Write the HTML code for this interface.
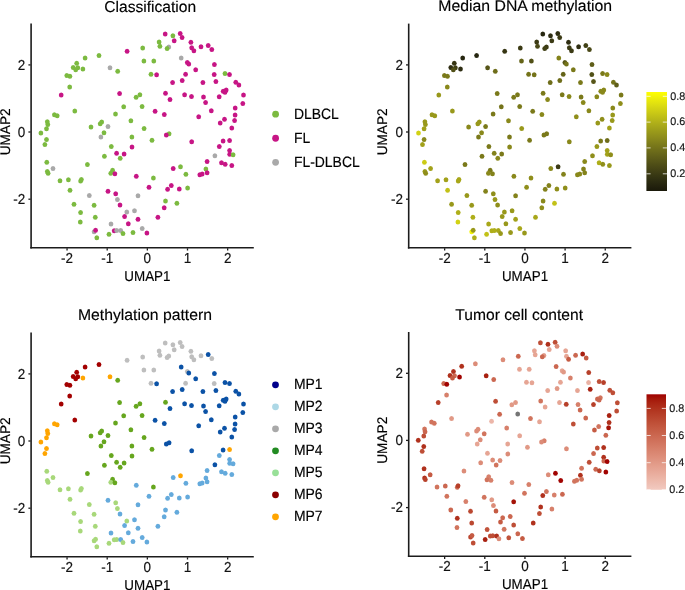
<!DOCTYPE html><html><head><meta charset="utf-8"><style>html,body{margin:0;padding:0;background:#fff;overflow:hidden;}svg{display:block}text{font-family:"Liberation Sans",sans-serif;fill:#000;stroke:#000;stroke-width:0.15px;text-rendering:geometricPrecision} .tk{font-size:13.5px;fill:#111;stroke:#111} .at{font-size:13.4px} .tt{font-size:15.6px} .lg{font-size:13.95px} .cb{font-size:10.8px;fill:#1a1a1a}</style></head><body>
<div style="transform:translateZ(0);width:685px;height:590px;filter:blur(0.3px)">
<svg width="685" height="590" viewBox="0 0 685 590">
<path d="M31.1 23.6V248.6" stroke="#1c1c1c" stroke-width="1.6"/>
<path d="M30.3 247.8H253.8" stroke="#1c1c1c" stroke-width="1.6"/>
<path d="M67.05 248.3V250.5" stroke="#1c1c1c" stroke-width="1.3"/>
<text transform="translate(67.05 263) scale(1.0 1.07)" text-anchor="middle" class="tk">-2</text>
<path d="M107.2 248.3V250.5" stroke="#1c1c1c" stroke-width="1.3"/>
<text transform="translate(107.2 263) scale(1.0 1.07)" text-anchor="middle" class="tk">-1</text>
<path d="M147.35 248.3V250.5" stroke="#1c1c1c" stroke-width="1.3"/>
<text transform="translate(147.35 263) scale(1.0 1.07)" text-anchor="middle" class="tk">0</text>
<path d="M187.5 248.3V250.5" stroke="#1c1c1c" stroke-width="1.3"/>
<text transform="translate(187.5 263) scale(1.0 1.07)" text-anchor="middle" class="tk">1</text>
<path d="M227.65 248.3V250.5" stroke="#1c1c1c" stroke-width="1.3"/>
<text transform="translate(227.65 263) scale(1.0 1.07)" text-anchor="middle" class="tk">2</text>
<path d="M28.4 64.9H30.6" stroke="#1c1c1c" stroke-width="1.3"/>
<text transform="translate(25.3 69.65) scale(1.0 1.07)" text-anchor="end" class="tk">2</text>
<path d="M28.4 132H30.6" stroke="#1c1c1c" stroke-width="1.3"/>
<text transform="translate(25.3 136.75) scale(1.0 1.07)" text-anchor="end" class="tk">0</text>
<path d="M28.4 199.2H30.6" stroke="#1c1c1c" stroke-width="1.3"/>
<text transform="translate(25.3 203.95) scale(1.0 1.07)" text-anchor="end" class="tk">-2</text>
<text transform="translate(147.4 280.6) scale(1.0 1.07)" text-anchor="middle" class="at">UMAP1</text>
<text transform="translate(9.6 131.85) rotate(-90) scale(1.02 1.045)" text-anchor="middle" class="at">UMAP2</text>
<ellipse cx="85.1" cy="58" rx="2.38" ry="2.5" fill="#7cba40"/>
<ellipse cx="76.7" cy="63.2" rx="2.38" ry="2.5" fill="#7cba40"/>
<ellipse cx="73.2" cy="67.4" rx="2.38" ry="2.5" fill="#7cba40"/>
<ellipse cx="77.8" cy="67.7" rx="2.38" ry="2.5" fill="#7cba40"/>
<ellipse cx="75.7" cy="69.8" rx="2.38" ry="2.5" fill="#7cba40"/>
<ellipse cx="82.9" cy="69" rx="2.38" ry="2.5" fill="#7cba40"/>
<ellipse cx="66.8" cy="75.6" rx="2.38" ry="2.5" fill="#7cba40"/>
<ellipse cx="69.9" cy="76.3" rx="2.38" ry="2.5" fill="#7cba40"/>
<ellipse cx="99" cy="55.5" rx="2.38" ry="2.5" fill="#7cba40"/>
<ellipse cx="110" cy="67.7" rx="2.38" ry="2.5" fill="#a9a9a9"/>
<ellipse cx="117.7" cy="71.3" rx="2.38" ry="2.5" fill="#7cba40"/>
<ellipse cx="127.1" cy="51.3" rx="2.38" ry="2.5" fill="#c71585"/>
<ellipse cx="142.7" cy="47.9" rx="2.38" ry="2.5" fill="#7cba40"/>
<ellipse cx="143.9" cy="60.9" rx="2.38" ry="2.5" fill="#7cba40"/>
<ellipse cx="151" cy="74.3" rx="2.38" ry="2.5" fill="#7cba40"/>
<ellipse cx="165.2" cy="34" rx="2.38" ry="2.5" fill="#c71585"/>
<ellipse cx="172.9" cy="35.7" rx="2.38" ry="2.5" fill="#7cba40"/>
<ellipse cx="180.2" cy="33.5" rx="2.38" ry="2.5" fill="#c71585"/>
<ellipse cx="182.1" cy="37.5" rx="2.38" ry="2.5" fill="#c71585"/>
<ellipse cx="174.2" cy="40.8" rx="2.38" ry="2.5" fill="#c71585"/>
<ellipse cx="159.1" cy="42.1" rx="2.38" ry="2.5" fill="#7cba40"/>
<ellipse cx="159.9" cy="46.2" rx="2.38" ry="2.5" fill="#7cba40"/>
<ellipse cx="168.8" cy="46.9" rx="2.38" ry="2.5" fill="#a9a9a9"/>
<ellipse cx="167.1" cy="48.4" rx="2.38" ry="2.5" fill="#7cba40"/>
<ellipse cx="190.9" cy="42.3" rx="2.38" ry="2.5" fill="#c71585"/>
<ellipse cx="191.7" cy="47.7" rx="2.38" ry="2.5" fill="#c71585"/>
<ellipse cx="193.9" cy="50.8" rx="2.38" ry="2.5" fill="#c71585"/>
<ellipse cx="201" cy="46.8" rx="2.38" ry="2.5" fill="#c71585"/>
<ellipse cx="208.2" cy="45.4" rx="2.38" ry="2.5" fill="#c71585"/>
<ellipse cx="211.8" cy="49.6" rx="2.38" ry="2.5" fill="#c71585"/>
<ellipse cx="181.2" cy="58.1" rx="2.38" ry="2.5" fill="#a9a9a9"/>
<ellipse cx="187.3" cy="62.5" rx="2.38" ry="2.5" fill="#c71585"/>
<ellipse cx="188.8" cy="63.9" rx="2.38" ry="2.5" fill="#c71585"/>
<ellipse cx="153.8" cy="60.9" rx="2.38" ry="2.5" fill="#7cba40"/>
<ellipse cx="195.7" cy="69.8" rx="2.38" ry="2.5" fill="#c71585"/>
<ellipse cx="156.6" cy="74.7" rx="2.38" ry="2.5" fill="#c71585"/>
<ellipse cx="185.6" cy="74.2" rx="2.38" ry="2.5" fill="#c71585"/>
<ellipse cx="182.2" cy="80.5" rx="2.38" ry="2.5" fill="#c71585"/>
<ellipse cx="172.6" cy="82.5" rx="2.38" ry="2.5" fill="#c71585"/>
<ellipse cx="202.9" cy="82.5" rx="2.38" ry="2.5" fill="#c71585"/>
<ellipse cx="214.4" cy="64.4" rx="2.38" ry="2.5" fill="#c71585"/>
<ellipse cx="214.2" cy="74.5" rx="2.38" ry="2.5" fill="#c71585"/>
<ellipse cx="225" cy="73.5" rx="2.38" ry="2.5" fill="#7cba40"/>
<ellipse cx="229.5" cy="74.5" rx="2.38" ry="2.5" fill="#c71585"/>
<ellipse cx="215.9" cy="81.4" rx="2.38" ry="2.5" fill="#c71585"/>
<ellipse cx="235.8" cy="82.3" rx="2.38" ry="2.5" fill="#c71585"/>
<ellipse cx="238.9" cy="84.9" rx="2.38" ry="2.5" fill="#c71585"/>
<ellipse cx="69.7" cy="87.1" rx="2.38" ry="2.5" fill="#7cba40"/>
<ellipse cx="61.2" cy="94.9" rx="2.38" ry="2.5" fill="#c71585"/>
<ellipse cx="74.8" cy="111.1" rx="2.38" ry="2.5" fill="#7cba40"/>
<ellipse cx="54.4" cy="114.7" rx="2.38" ry="2.5" fill="#7cba40"/>
<ellipse cx="57.2" cy="115.8" rx="2.38" ry="2.5" fill="#7cba40"/>
<ellipse cx="47.3" cy="121.8" rx="2.38" ry="2.5" fill="#7cba40"/>
<ellipse cx="47.8" cy="124.5" rx="2.38" ry="2.5" fill="#7cba40"/>
<ellipse cx="46.5" cy="128.8" rx="2.38" ry="2.5" fill="#7cba40"/>
<ellipse cx="40.9" cy="133.1" rx="2.38" ry="2.5" fill="#7cba40"/>
<ellipse cx="46.5" cy="139.5" rx="2.38" ry="2.5" fill="#7cba40"/>
<ellipse cx="91" cy="127" rx="2.38" ry="2.5" fill="#7cba40"/>
<ellipse cx="119.6" cy="93.5" rx="2.38" ry="2.5" fill="#c71585"/>
<ellipse cx="136.1" cy="97.2" rx="2.38" ry="2.5" fill="#7cba40"/>
<ellipse cx="139.9" cy="94.8" rx="2.38" ry="2.5" fill="#7cba40"/>
<ellipse cx="123.7" cy="106.7" rx="2.38" ry="2.5" fill="#7cba40"/>
<ellipse cx="142.1" cy="106.4" rx="2.38" ry="2.5" fill="#7cba40"/>
<ellipse cx="115.5" cy="114" rx="2.38" ry="2.5" fill="#7cba40"/>
<ellipse cx="101.7" cy="122" rx="2.38" ry="2.5" fill="#7cba40"/>
<ellipse cx="100.2" cy="123.7" rx="2.38" ry="2.5" fill="#7cba40"/>
<ellipse cx="130.9" cy="120.8" rx="2.38" ry="2.5" fill="#7cba40"/>
<ellipse cx="108" cy="126.5" rx="2.38" ry="2.5" fill="#a9a9a9"/>
<ellipse cx="104" cy="132.8" rx="2.38" ry="2.5" fill="#7cba40"/>
<ellipse cx="100.9" cy="136.9" rx="2.38" ry="2.5" fill="#a9a9a9"/>
<ellipse cx="144.1" cy="128.6" rx="2.38" ry="2.5" fill="#7cba40"/>
<ellipse cx="131.9" cy="136.9" rx="2.38" ry="2.5" fill="#7cba40"/>
<ellipse cx="152" cy="140.3" rx="2.38" ry="2.5" fill="#7cba40"/>
<ellipse cx="165.5" cy="93.2" rx="2.38" ry="2.5" fill="#c71585"/>
<ellipse cx="170" cy="99.5" rx="2.38" ry="2.5" fill="#c71585"/>
<ellipse cx="184.6" cy="94.7" rx="2.38" ry="2.5" fill="#c71585"/>
<ellipse cx="191.5" cy="96.5" rx="2.38" ry="2.5" fill="#c71585"/>
<ellipse cx="203.5" cy="96.9" rx="2.38" ry="2.5" fill="#c71585"/>
<ellipse cx="205.6" cy="102.5" rx="2.38" ry="2.5" fill="#c71585"/>
<ellipse cx="155.1" cy="111.2" rx="2.38" ry="2.5" fill="#c71585"/>
<ellipse cx="164.3" cy="114.5" rx="2.38" ry="2.5" fill="#c71585"/>
<ellipse cx="198.7" cy="116.8" rx="2.38" ry="2.5" fill="#c71585"/>
<ellipse cx="211.3" cy="110.7" rx="2.38" ry="2.5" fill="#c71585"/>
<ellipse cx="169.1" cy="133.8" rx="2.38" ry="2.5" fill="#7cba40"/>
<ellipse cx="166.3" cy="135.1" rx="2.38" ry="2.5" fill="#c71585"/>
<ellipse cx="191.7" cy="141.8" rx="2.38" ry="2.5" fill="#c71585"/>
<ellipse cx="223.2" cy="91.3" rx="2.38" ry="2.5" fill="#c71585"/>
<ellipse cx="226.2" cy="89.9" rx="2.38" ry="2.5" fill="#c71585"/>
<ellipse cx="225" cy="92.2" rx="2.38" ry="2.5" fill="#c71585"/>
<ellipse cx="219.2" cy="96.8" rx="2.38" ry="2.5" fill="#c71585"/>
<ellipse cx="243.5" cy="95" rx="2.38" ry="2.5" fill="#c71585"/>
<ellipse cx="242.8" cy="103.5" rx="2.38" ry="2.5" fill="#c71585"/>
<ellipse cx="235.2" cy="108" rx="2.38" ry="2.5" fill="#c71585"/>
<ellipse cx="235.1" cy="115.1" rx="2.38" ry="2.5" fill="#c71585"/>
<ellipse cx="224.5" cy="119.3" rx="2.38" ry="2.5" fill="#c71585"/>
<ellipse cx="220.2" cy="122.9" rx="2.38" ry="2.5" fill="#c71585"/>
<ellipse cx="234.6" cy="120.6" rx="2.38" ry="2.5" fill="#c71585"/>
<ellipse cx="231.8" cy="128.1" rx="2.38" ry="2.5" fill="#c71585"/>
<ellipse cx="223.1" cy="141" rx="2.38" ry="2.5" fill="#c71585"/>
<ellipse cx="229.6" cy="140.5" rx="2.38" ry="2.5" fill="#c71585"/>
<ellipse cx="44.9" cy="144.5" rx="2.38" ry="2.5" fill="#7cba40"/>
<ellipse cx="46.8" cy="162.3" rx="2.38" ry="2.5" fill="#7cba40"/>
<ellipse cx="53" cy="168.4" rx="2.38" ry="2.5" fill="#a9a9a9"/>
<ellipse cx="47.3" cy="171.5" rx="2.38" ry="2.5" fill="#7cba40"/>
<ellipse cx="48.1" cy="173.2" rx="2.38" ry="2.5" fill="#7cba40"/>
<ellipse cx="60" cy="180.8" rx="2.38" ry="2.5" fill="#7cba40"/>
<ellipse cx="68.4" cy="179.8" rx="2.38" ry="2.5" fill="#7cba40"/>
<ellipse cx="80.6" cy="180.9" rx="2.38" ry="2.5" fill="#7cba40"/>
<ellipse cx="81.4" cy="179.4" rx="2.38" ry="2.5" fill="#7cba40"/>
<ellipse cx="70" cy="190.2" rx="2.38" ry="2.5" fill="#7cba40"/>
<ellipse cx="87.4" cy="164.4" rx="2.38" ry="2.5" fill="#7cba40"/>
<ellipse cx="89.3" cy="195.6" rx="2.38" ry="2.5" fill="#a9a9a9"/>
<ellipse cx="111.3" cy="146.4" rx="2.38" ry="2.5" fill="#7cba40"/>
<ellipse cx="132" cy="147.1" rx="2.38" ry="2.5" fill="#c71585"/>
<ellipse cx="116.6" cy="153.2" rx="2.38" ry="2.5" fill="#c71585"/>
<ellipse cx="124.1" cy="153.9" rx="2.38" ry="2.5" fill="#c71585"/>
<ellipse cx="104.4" cy="156.2" rx="2.38" ry="2.5" fill="#7cba40"/>
<ellipse cx="120.2" cy="158.3" rx="2.38" ry="2.5" fill="#7cba40"/>
<ellipse cx="112.6" cy="170.3" rx="2.38" ry="2.5" fill="#7cba40"/>
<ellipse cx="110.8" cy="173.3" rx="2.38" ry="2.5" fill="#7cba40"/>
<ellipse cx="114.9" cy="173.8" rx="2.38" ry="2.5" fill="#c71585"/>
<ellipse cx="136.3" cy="176.3" rx="2.38" ry="2.5" fill="#c71585"/>
<ellipse cx="149" cy="187.2" rx="2.38" ry="2.5" fill="#c71585"/>
<ellipse cx="108" cy="191.3" rx="2.38" ry="2.5" fill="#c71585"/>
<ellipse cx="115.7" cy="193.8" rx="2.38" ry="2.5" fill="#c71585"/>
<ellipse cx="138" cy="195.7" rx="2.38" ry="2.5" fill="#a9a9a9"/>
<ellipse cx="117.4" cy="199.6" rx="2.38" ry="2.5" fill="#a9a9a9"/>
<ellipse cx="207.1" cy="161.6" rx="2.38" ry="2.5" fill="#c71585"/>
<ellipse cx="180.5" cy="166.8" rx="2.38" ry="2.5" fill="#7cba40"/>
<ellipse cx="173.2" cy="168.4" rx="2.38" ry="2.5" fill="#c71585"/>
<ellipse cx="185.9" cy="174.2" rx="2.38" ry="2.5" fill="#7cba40"/>
<ellipse cx="205.9" cy="168.9" rx="2.38" ry="2.5" fill="#7cba40"/>
<ellipse cx="207.1" cy="172.8" rx="2.38" ry="2.5" fill="#c71585"/>
<ellipse cx="199.8" cy="174.8" rx="2.38" ry="2.5" fill="#c71585"/>
<ellipse cx="202.2" cy="174" rx="2.38" ry="2.5" fill="#c71585"/>
<ellipse cx="153.4" cy="178.1" rx="2.38" ry="2.5" fill="#7cba40"/>
<ellipse cx="171.3" cy="185.4" rx="2.38" ry="2.5" fill="#c71585"/>
<ellipse cx="167.6" cy="189.3" rx="2.38" ry="2.5" fill="#c71585"/>
<ellipse cx="179.3" cy="189" rx="2.38" ry="2.5" fill="#c71585"/>
<ellipse cx="187.6" cy="188.1" rx="2.38" ry="2.5" fill="#7cba40"/>
<ellipse cx="165.5" cy="201" rx="2.38" ry="2.5" fill="#7cba40"/>
<ellipse cx="176.9" cy="203.2" rx="2.38" ry="2.5" fill="#7cba40"/>
<ellipse cx="219.3" cy="146.6" rx="2.38" ry="2.5" fill="#c71585"/>
<ellipse cx="229.6" cy="150.4" rx="2.38" ry="2.5" fill="#c71585"/>
<ellipse cx="229.7" cy="154.3" rx="2.38" ry="2.5" fill="#c71585"/>
<ellipse cx="233.1" cy="154.8" rx="2.38" ry="2.5" fill="#7cba40"/>
<ellipse cx="214.9" cy="155.7" rx="2.38" ry="2.5" fill="#a9a9a9"/>
<ellipse cx="221.5" cy="162.8" rx="2.38" ry="2.5" fill="#c71585"/>
<ellipse cx="225.2" cy="164.2" rx="2.38" ry="2.5" fill="#c71585"/>
<ellipse cx="231.8" cy="165.4" rx="2.38" ry="2.5" fill="#c71585"/>
<ellipse cx="74" cy="204.2" rx="2.38" ry="2.5" fill="#7cba40"/>
<ellipse cx="80.6" cy="212.6" rx="2.38" ry="2.5" fill="#7cba40"/>
<ellipse cx="80.3" cy="222" rx="2.38" ry="2.5" fill="#7cba40"/>
<ellipse cx="94.1" cy="205.3" rx="2.38" ry="2.5" fill="#7cba40"/>
<ellipse cx="120" cy="205.1" rx="2.38" ry="2.5" fill="#c71585"/>
<ellipse cx="126.8" cy="212.1" rx="2.38" ry="2.5" fill="#a9a9a9"/>
<ellipse cx="134.5" cy="210.8" rx="2.38" ry="2.5" fill="#a9a9a9"/>
<ellipse cx="95.3" cy="217.3" rx="2.38" ry="2.5" fill="#7cba40"/>
<ellipse cx="124.6" cy="216.4" rx="2.38" ry="2.5" fill="#c71585"/>
<ellipse cx="138" cy="219.3" rx="2.38" ry="2.5" fill="#c71585"/>
<ellipse cx="111" cy="223.9" rx="2.38" ry="2.5" fill="#a9a9a9"/>
<ellipse cx="128.3" cy="223.8" rx="2.38" ry="2.5" fill="#c71585"/>
<ellipse cx="142.2" cy="228.4" rx="2.38" ry="2.5" fill="#a9a9a9"/>
<ellipse cx="94.1" cy="231.7" rx="2.38" ry="2.5" fill="#a9a9a9"/>
<ellipse cx="95.6" cy="230.2" rx="2.38" ry="2.5" fill="#c71585"/>
<ellipse cx="114.2" cy="230.7" rx="2.38" ry="2.5" fill="#c71585"/>
<ellipse cx="116.7" cy="230.4" rx="2.38" ry="2.5" fill="#a9a9a9"/>
<ellipse cx="120.7" cy="230.5" rx="2.38" ry="2.5" fill="#a9a9a9"/>
<ellipse cx="123" cy="233.4" rx="2.38" ry="2.5" fill="#7cba40"/>
<ellipse cx="133" cy="232.4" rx="2.38" ry="2.5" fill="#7cba40"/>
<ellipse cx="146.9" cy="233" rx="2.38" ry="2.5" fill="#c71585"/>
<ellipse cx="109" cy="234.2" rx="2.38" ry="2.5" fill="#7cba40"/>
<ellipse cx="96.8" cy="237.8" rx="2.38" ry="2.5" fill="#7cba40"/>
<ellipse cx="164.2" cy="207.8" rx="2.38" ry="2.5" fill="#c71585"/>
<ellipse cx="157.9" cy="217.3" rx="2.38" ry="2.5" fill="#c71585"/>
<text transform="translate(150.25 11.5) scale(1.0 1.0)" text-anchor="middle" class="tt">Classification</text>
<circle cx="275.6" cy="114.2" r="3.4" fill="#7cba40"/>
<text transform="translate(293.9 118.65) scale(1.0 1.07)" class="lg">DLBCL</text>
<circle cx="275.6" cy="138.25" r="3.4" fill="#c71585"/>
<text transform="translate(293.9 142.7) scale(1.0 1.07)" class="lg">FL</text>
<circle cx="275.6" cy="162.3" r="3.4" fill="#a9a9a9"/>
<text transform="translate(293.9 166.75) scale(1.0 1.07)" class="lg">FL-DLBCL</text>
<path d="M408.7 23.6V248.6" stroke="#1c1c1c" stroke-width="1.6"/>
<path d="M407.9 247.8H631.4" stroke="#1c1c1c" stroke-width="1.6"/>
<path d="M444.65 248.3V250.5" stroke="#1c1c1c" stroke-width="1.3"/>
<text transform="translate(444.65 263) scale(1.0 1.07)" text-anchor="middle" class="tk">-2</text>
<path d="M484.8 248.3V250.5" stroke="#1c1c1c" stroke-width="1.3"/>
<text transform="translate(484.8 263) scale(1.0 1.07)" text-anchor="middle" class="tk">-1</text>
<path d="M524.95 248.3V250.5" stroke="#1c1c1c" stroke-width="1.3"/>
<text transform="translate(524.95 263) scale(1.0 1.07)" text-anchor="middle" class="tk">0</text>
<path d="M565.1 248.3V250.5" stroke="#1c1c1c" stroke-width="1.3"/>
<text transform="translate(565.1 263) scale(1.0 1.07)" text-anchor="middle" class="tk">1</text>
<path d="M605.25 248.3V250.5" stroke="#1c1c1c" stroke-width="1.3"/>
<text transform="translate(605.25 263) scale(1.0 1.07)" text-anchor="middle" class="tk">2</text>
<path d="M406 64.9H408.2" stroke="#1c1c1c" stroke-width="1.3"/>
<text transform="translate(402.9 69.65) scale(1.0 1.07)" text-anchor="end" class="tk">2</text>
<path d="M406 132H408.2" stroke="#1c1c1c" stroke-width="1.3"/>
<text transform="translate(402.9 136.75) scale(1.0 1.07)" text-anchor="end" class="tk">0</text>
<path d="M406 199.2H408.2" stroke="#1c1c1c" stroke-width="1.3"/>
<text transform="translate(402.9 203.95) scale(1.0 1.07)" text-anchor="end" class="tk">-2</text>
<text transform="translate(525 280.6) scale(1.0 1.07)" text-anchor="middle" class="at">UMAP1</text>
<text transform="translate(387.2 131.85) rotate(-90) scale(1.02 1.045)" text-anchor="middle" class="at">UMAP2</text>
<ellipse cx="462.7" cy="58" rx="2.38" ry="2.5" fill="#262610"/>
<ellipse cx="454.3" cy="63.2" rx="2.38" ry="2.5" fill="#363513"/>
<ellipse cx="450.8" cy="67.4" rx="2.38" ry="2.5" fill="#2e2d12"/>
<ellipse cx="455.4" cy="67.7" rx="2.38" ry="2.5" fill="#404015"/>
<ellipse cx="453.3" cy="69.8" rx="2.38" ry="2.5" fill="#515017"/>
<ellipse cx="460.5" cy="69" rx="2.38" ry="2.5" fill="#2e2d12"/>
<ellipse cx="444.4" cy="75.6" rx="2.38" ry="2.5" fill="#7a791a"/>
<ellipse cx="447.5" cy="76.3" rx="2.38" ry="2.5" fill="#7a791a"/>
<ellipse cx="476.6" cy="55.5" rx="2.38" ry="2.5" fill="#262610"/>
<ellipse cx="487.6" cy="67.7" rx="2.38" ry="2.5" fill="#575618"/>
<ellipse cx="495.3" cy="71.3" rx="2.38" ry="2.5" fill="#6e6d1a"/>
<ellipse cx="504.7" cy="51.3" rx="2.38" ry="2.5" fill="#363513"/>
<ellipse cx="520.3" cy="47.9" rx="2.38" ry="2.5" fill="#3b3a14"/>
<ellipse cx="521.5" cy="60.9" rx="2.38" ry="2.5" fill="#656419"/>
<ellipse cx="528.6" cy="74.3" rx="2.38" ry="2.5" fill="#74731a"/>
<ellipse cx="542.8" cy="34" rx="2.38" ry="2.5" fill="#262610"/>
<ellipse cx="550.5" cy="35.7" rx="2.38" ry="2.5" fill="#2e2d12"/>
<ellipse cx="557.8" cy="33.5" rx="2.38" ry="2.5" fill="#2e2d12"/>
<ellipse cx="559.7" cy="37.5" rx="2.38" ry="2.5" fill="#3b3a14"/>
<ellipse cx="551.8" cy="40.8" rx="2.38" ry="2.5" fill="#3b3a14"/>
<ellipse cx="536.7" cy="42.1" rx="2.38" ry="2.5" fill="#3b3a14"/>
<ellipse cx="537.5" cy="46.2" rx="2.38" ry="2.5" fill="#494816"/>
<ellipse cx="546.4" cy="46.9" rx="2.38" ry="2.5" fill="#3b3a14"/>
<ellipse cx="544.7" cy="48.4" rx="2.38" ry="2.5" fill="#404015"/>
<ellipse cx="568.5" cy="42.3" rx="2.38" ry="2.5" fill="#2e2d12"/>
<ellipse cx="569.3" cy="47.7" rx="2.38" ry="2.5" fill="#3b3a14"/>
<ellipse cx="571.5" cy="50.8" rx="2.38" ry="2.5" fill="#3b3a14"/>
<ellipse cx="578.6" cy="46.8" rx="2.38" ry="2.5" fill="#2e2d12"/>
<ellipse cx="585.8" cy="45.4" rx="2.38" ry="2.5" fill="#404015"/>
<ellipse cx="589.4" cy="49.6" rx="2.38" ry="2.5" fill="#494816"/>
<ellipse cx="558.8" cy="58.1" rx="2.38" ry="2.5" fill="#83821b"/>
<ellipse cx="564.9" cy="62.5" rx="2.38" ry="2.5" fill="#575618"/>
<ellipse cx="566.4" cy="63.9" rx="2.38" ry="2.5" fill="#74731a"/>
<ellipse cx="531.4" cy="60.9" rx="2.38" ry="2.5" fill="#515017"/>
<ellipse cx="573.3" cy="69.8" rx="2.38" ry="2.5" fill="#7a791a"/>
<ellipse cx="534.2" cy="74.7" rx="2.38" ry="2.5" fill="#74731a"/>
<ellipse cx="563.2" cy="74.2" rx="2.38" ry="2.5" fill="#656419"/>
<ellipse cx="559.8" cy="80.5" rx="2.38" ry="2.5" fill="#6e6d1a"/>
<ellipse cx="550.2" cy="82.5" rx="2.38" ry="2.5" fill="#6e6d1a"/>
<ellipse cx="580.5" cy="82.5" rx="2.38" ry="2.5" fill="#7a791a"/>
<ellipse cx="592" cy="64.4" rx="2.38" ry="2.5" fill="#5f5e19"/>
<ellipse cx="591.8" cy="74.5" rx="2.38" ry="2.5" fill="#515017"/>
<ellipse cx="602.6" cy="73.5" rx="2.38" ry="2.5" fill="#7a791a"/>
<ellipse cx="607.1" cy="74.5" rx="2.38" ry="2.5" fill="#89881b"/>
<ellipse cx="593.5" cy="81.4" rx="2.38" ry="2.5" fill="#575618"/>
<ellipse cx="613.4" cy="82.3" rx="2.38" ry="2.5" fill="#74731a"/>
<ellipse cx="616.5" cy="84.9" rx="2.38" ry="2.5" fill="#5f5e19"/>
<ellipse cx="447.3" cy="87.1" rx="2.38" ry="2.5" fill="#89881b"/>
<ellipse cx="438.8" cy="94.9" rx="2.38" ry="2.5" fill="#98981b"/>
<ellipse cx="452.4" cy="111.1" rx="2.38" ry="2.5" fill="#98981b"/>
<ellipse cx="432" cy="114.7" rx="2.38" ry="2.5" fill="#98981b"/>
<ellipse cx="434.8" cy="115.8" rx="2.38" ry="2.5" fill="#98981b"/>
<ellipse cx="424.9" cy="121.8" rx="2.38" ry="2.5" fill="#98981b"/>
<ellipse cx="425.4" cy="124.5" rx="2.38" ry="2.5" fill="#98981b"/>
<ellipse cx="424.1" cy="128.8" rx="2.38" ry="2.5" fill="#a2a11a"/>
<ellipse cx="418.5" cy="133.1" rx="2.38" ry="2.5" fill="#d2d214"/>
<ellipse cx="424.1" cy="139.5" rx="2.38" ry="2.5" fill="#89881b"/>
<ellipse cx="468.6" cy="127" rx="2.38" ry="2.5" fill="#89881b"/>
<ellipse cx="497.2" cy="93.5" rx="2.38" ry="2.5" fill="#7a791a"/>
<ellipse cx="513.7" cy="97.2" rx="2.38" ry="2.5" fill="#7a791a"/>
<ellipse cx="517.5" cy="94.8" rx="2.38" ry="2.5" fill="#7a791a"/>
<ellipse cx="501.3" cy="106.7" rx="2.38" ry="2.5" fill="#74731a"/>
<ellipse cx="519.7" cy="106.4" rx="2.38" ry="2.5" fill="#7a791a"/>
<ellipse cx="493.1" cy="114" rx="2.38" ry="2.5" fill="#7a791a"/>
<ellipse cx="479.3" cy="122" rx="2.38" ry="2.5" fill="#98981b"/>
<ellipse cx="477.8" cy="123.7" rx="2.38" ry="2.5" fill="#98981b"/>
<ellipse cx="508.5" cy="120.8" rx="2.38" ry="2.5" fill="#89881b"/>
<ellipse cx="485.6" cy="126.5" rx="2.38" ry="2.5" fill="#7a791a"/>
<ellipse cx="481.6" cy="132.8" rx="2.38" ry="2.5" fill="#89881b"/>
<ellipse cx="478.5" cy="136.9" rx="2.38" ry="2.5" fill="#7a791a"/>
<ellipse cx="521.7" cy="128.6" rx="2.38" ry="2.5" fill="#98981b"/>
<ellipse cx="509.5" cy="136.9" rx="2.38" ry="2.5" fill="#7a791a"/>
<ellipse cx="529.6" cy="140.3" rx="2.38" ry="2.5" fill="#7a791a"/>
<ellipse cx="543.1" cy="93.2" rx="2.38" ry="2.5" fill="#7a791a"/>
<ellipse cx="547.6" cy="99.5" rx="2.38" ry="2.5" fill="#89881b"/>
<ellipse cx="562.2" cy="94.7" rx="2.38" ry="2.5" fill="#7a791a"/>
<ellipse cx="569.1" cy="96.5" rx="2.38" ry="2.5" fill="#89881b"/>
<ellipse cx="581.1" cy="96.9" rx="2.38" ry="2.5" fill="#7a791a"/>
<ellipse cx="583.2" cy="102.5" rx="2.38" ry="2.5" fill="#89881b"/>
<ellipse cx="532.7" cy="111.2" rx="2.38" ry="2.5" fill="#7a791a"/>
<ellipse cx="541.9" cy="114.5" rx="2.38" ry="2.5" fill="#89881b"/>
<ellipse cx="576.3" cy="116.8" rx="2.38" ry="2.5" fill="#8f8e1b"/>
<ellipse cx="588.9" cy="110.7" rx="2.38" ry="2.5" fill="#89881b"/>
<ellipse cx="546.7" cy="133.8" rx="2.38" ry="2.5" fill="#7a791a"/>
<ellipse cx="543.9" cy="135.1" rx="2.38" ry="2.5" fill="#7a791a"/>
<ellipse cx="569.3" cy="141.8" rx="2.38" ry="2.5" fill="#89881b"/>
<ellipse cx="600.8" cy="91.3" rx="2.38" ry="2.5" fill="#89881b"/>
<ellipse cx="603.8" cy="89.9" rx="2.38" ry="2.5" fill="#89881b"/>
<ellipse cx="602.6" cy="92.2" rx="2.38" ry="2.5" fill="#89881b"/>
<ellipse cx="596.8" cy="96.8" rx="2.38" ry="2.5" fill="#89881b"/>
<ellipse cx="621.1" cy="95" rx="2.38" ry="2.5" fill="#7a791a"/>
<ellipse cx="620.4" cy="103.5" rx="2.38" ry="2.5" fill="#8f8e1b"/>
<ellipse cx="612.8" cy="108" rx="2.38" ry="2.5" fill="#89881b"/>
<ellipse cx="612.7" cy="115.1" rx="2.38" ry="2.5" fill="#98981b"/>
<ellipse cx="602.1" cy="119.3" rx="2.38" ry="2.5" fill="#8f8e1b"/>
<ellipse cx="597.8" cy="122.9" rx="2.38" ry="2.5" fill="#98981b"/>
<ellipse cx="612.2" cy="120.6" rx="2.38" ry="2.5" fill="#98981b"/>
<ellipse cx="609.4" cy="128.1" rx="2.38" ry="2.5" fill="#a2a11a"/>
<ellipse cx="600.7" cy="141" rx="2.38" ry="2.5" fill="#7a791a"/>
<ellipse cx="607.2" cy="140.5" rx="2.38" ry="2.5" fill="#6e6d1a"/>
<ellipse cx="422.5" cy="144.5" rx="2.38" ry="2.5" fill="#a2a11a"/>
<ellipse cx="424.4" cy="162.3" rx="2.38" ry="2.5" fill="#cccb15"/>
<ellipse cx="430.6" cy="168.4" rx="2.38" ry="2.5" fill="#a2a11a"/>
<ellipse cx="424.9" cy="171.5" rx="2.38" ry="2.5" fill="#98981b"/>
<ellipse cx="425.7" cy="173.2" rx="2.38" ry="2.5" fill="#8f8e1b"/>
<ellipse cx="437.6" cy="180.8" rx="2.38" ry="2.5" fill="#a2a11a"/>
<ellipse cx="446" cy="179.8" rx="2.38" ry="2.5" fill="#a2a11a"/>
<ellipse cx="458.2" cy="180.9" rx="2.38" ry="2.5" fill="#a8a71a"/>
<ellipse cx="459" cy="179.4" rx="2.38" ry="2.5" fill="#a8a71a"/>
<ellipse cx="447.6" cy="190.2" rx="2.38" ry="2.5" fill="#c2c117"/>
<ellipse cx="465" cy="164.4" rx="2.38" ry="2.5" fill="#7a791a"/>
<ellipse cx="466.9" cy="195.6" rx="2.38" ry="2.5" fill="#98981b"/>
<ellipse cx="488.9" cy="146.4" rx="2.38" ry="2.5" fill="#7a791a"/>
<ellipse cx="509.6" cy="147.1" rx="2.38" ry="2.5" fill="#89881b"/>
<ellipse cx="494.2" cy="153.2" rx="2.38" ry="2.5" fill="#83821b"/>
<ellipse cx="501.7" cy="153.9" rx="2.38" ry="2.5" fill="#7a791a"/>
<ellipse cx="482" cy="156.2" rx="2.38" ry="2.5" fill="#7a791a"/>
<ellipse cx="497.8" cy="158.3" rx="2.38" ry="2.5" fill="#89881b"/>
<ellipse cx="490.2" cy="170.3" rx="2.38" ry="2.5" fill="#7a791a"/>
<ellipse cx="488.4" cy="173.3" rx="2.38" ry="2.5" fill="#89881b"/>
<ellipse cx="492.5" cy="173.8" rx="2.38" ry="2.5" fill="#83821b"/>
<ellipse cx="513.9" cy="176.3" rx="2.38" ry="2.5" fill="#89881b"/>
<ellipse cx="526.6" cy="187.2" rx="2.38" ry="2.5" fill="#8f8e1b"/>
<ellipse cx="485.6" cy="191.3" rx="2.38" ry="2.5" fill="#83821b"/>
<ellipse cx="493.3" cy="193.8" rx="2.38" ry="2.5" fill="#8f8e1b"/>
<ellipse cx="515.6" cy="195.7" rx="2.38" ry="2.5" fill="#83821b"/>
<ellipse cx="495" cy="199.6" rx="2.38" ry="2.5" fill="#98981b"/>
<ellipse cx="584.7" cy="161.6" rx="2.38" ry="2.5" fill="#89881b"/>
<ellipse cx="558.1" cy="166.8" rx="2.38" ry="2.5" fill="#3b3a14"/>
<ellipse cx="550.8" cy="168.4" rx="2.38" ry="2.5" fill="#89881b"/>
<ellipse cx="563.5" cy="174.2" rx="2.38" ry="2.5" fill="#83821b"/>
<ellipse cx="583.5" cy="168.9" rx="2.38" ry="2.5" fill="#83821b"/>
<ellipse cx="584.7" cy="172.8" rx="2.38" ry="2.5" fill="#83821b"/>
<ellipse cx="577.4" cy="174.8" rx="2.38" ry="2.5" fill="#89881b"/>
<ellipse cx="579.8" cy="174" rx="2.38" ry="2.5" fill="#89881b"/>
<ellipse cx="531" cy="178.1" rx="2.38" ry="2.5" fill="#8f8e1b"/>
<ellipse cx="548.9" cy="185.4" rx="2.38" ry="2.5" fill="#83821b"/>
<ellipse cx="545.2" cy="189.3" rx="2.38" ry="2.5" fill="#83821b"/>
<ellipse cx="556.9" cy="189" rx="2.38" ry="2.5" fill="#8f8e1b"/>
<ellipse cx="565.2" cy="188.1" rx="2.38" ry="2.5" fill="#8f8e1b"/>
<ellipse cx="543.1" cy="201" rx="2.38" ry="2.5" fill="#89881b"/>
<ellipse cx="554.5" cy="203.2" rx="2.38" ry="2.5" fill="#c2c117"/>
<ellipse cx="596.9" cy="146.6" rx="2.38" ry="2.5" fill="#98981b"/>
<ellipse cx="607.2" cy="150.4" rx="2.38" ry="2.5" fill="#a2a11a"/>
<ellipse cx="607.3" cy="154.3" rx="2.38" ry="2.5" fill="#a2a11a"/>
<ellipse cx="610.7" cy="154.8" rx="2.38" ry="2.5" fill="#8f8e1b"/>
<ellipse cx="592.5" cy="155.7" rx="2.38" ry="2.5" fill="#8f8e1b"/>
<ellipse cx="599.1" cy="162.8" rx="2.38" ry="2.5" fill="#aeae19"/>
<ellipse cx="602.8" cy="164.2" rx="2.38" ry="2.5" fill="#8f8e1b"/>
<ellipse cx="609.4" cy="165.4" rx="2.38" ry="2.5" fill="#98981b"/>
<ellipse cx="451.6" cy="204.2" rx="2.38" ry="2.5" fill="#98981b"/>
<ellipse cx="458.2" cy="212.6" rx="2.38" ry="2.5" fill="#aeae19"/>
<ellipse cx="457.9" cy="222" rx="2.38" ry="2.5" fill="#d2d214"/>
<ellipse cx="471.7" cy="205.3" rx="2.38" ry="2.5" fill="#98981b"/>
<ellipse cx="497.6" cy="205.1" rx="2.38" ry="2.5" fill="#8f8e1b"/>
<ellipse cx="504.4" cy="212.1" rx="2.38" ry="2.5" fill="#98981b"/>
<ellipse cx="512.1" cy="210.8" rx="2.38" ry="2.5" fill="#98981b"/>
<ellipse cx="472.9" cy="217.3" rx="2.38" ry="2.5" fill="#aeae19"/>
<ellipse cx="502.2" cy="216.4" rx="2.38" ry="2.5" fill="#98981b"/>
<ellipse cx="515.6" cy="219.3" rx="2.38" ry="2.5" fill="#a2a11a"/>
<ellipse cx="488.6" cy="223.9" rx="2.38" ry="2.5" fill="#a8a71a"/>
<ellipse cx="505.9" cy="223.8" rx="2.38" ry="2.5" fill="#98981b"/>
<ellipse cx="519.8" cy="228.4" rx="2.38" ry="2.5" fill="#a8a71a"/>
<ellipse cx="471.7" cy="231.7" rx="2.38" ry="2.5" fill="#f4f407"/>
<ellipse cx="473.2" cy="230.2" rx="2.38" ry="2.5" fill="#98981b"/>
<ellipse cx="491.8" cy="230.7" rx="2.38" ry="2.5" fill="#aeae19"/>
<ellipse cx="494.3" cy="230.4" rx="2.38" ry="2.5" fill="#aeae19"/>
<ellipse cx="498.3" cy="230.5" rx="2.38" ry="2.5" fill="#a8a71a"/>
<ellipse cx="500.6" cy="233.4" rx="2.38" ry="2.5" fill="#98981b"/>
<ellipse cx="510.6" cy="232.4" rx="2.38" ry="2.5" fill="#98981b"/>
<ellipse cx="524.5" cy="233" rx="2.38" ry="2.5" fill="#98981b"/>
<ellipse cx="486.6" cy="234.2" rx="2.38" ry="2.5" fill="#c2c117"/>
<ellipse cx="474.4" cy="237.8" rx="2.38" ry="2.5" fill="#aeae19"/>
<ellipse cx="541.8" cy="207.8" rx="2.38" ry="2.5" fill="#8f8e1b"/>
<ellipse cx="535.5" cy="217.3" rx="2.38" ry="2.5" fill="#a8a71a"/>
<text transform="translate(525.2 11) scale(1.013 1.0)" text-anchor="middle" class="tt">Median DNA methylation</text>
<defs><linearGradient id="g1" x1="0" y1="0" x2="0" y2="1"><stop offset="0.000" stop-color="#ffff00"/><stop offset="0.050" stop-color="#f2f208"/><stop offset="0.100" stop-color="#e5e50e"/><stop offset="0.150" stop-color="#d8d813"/><stop offset="0.200" stop-color="#cccb15"/><stop offset="0.250" stop-color="#bfbf17"/><stop offset="0.300" stop-color="#b3b219"/><stop offset="0.350" stop-color="#a6a61a"/><stop offset="0.400" stop-color="#9a9a1a"/><stop offset="0.450" stop-color="#8f8e1b"/><stop offset="0.500" stop-color="#83821b"/><stop offset="0.550" stop-color="#77761a"/><stop offset="0.600" stop-color="#6c6b1a"/><stop offset="0.650" stop-color="#616019"/><stop offset="0.700" stop-color="#565518"/><stop offset="0.750" stop-color="#4b4a16"/><stop offset="0.800" stop-color="#414015"/><stop offset="0.850" stop-color="#363613"/><stop offset="0.900" stop-color="#2c2c11"/><stop offset="0.950" stop-color="#23220e"/><stop offset="1.000" stop-color="#1a190a"/></linearGradient></defs>
<rect x="646.4" y="92" width="20.6" height="99" fill="url(#g1)"/>
<path d="M646.4 96.3h4.2M667 96.3h-4.2" stroke="#fff" stroke-opacity="0.75" stroke-width="1"/>
<text transform="translate(670.2 99.55) scale(1.0 1.02)" class="cb">0.8</text>
<path d="M646.4 122.1h4.2M667 122.1h-4.2" stroke="#fff" stroke-opacity="0.75" stroke-width="1"/>
<text transform="translate(670.2 125.35) scale(1.0 1.02)" class="cb">0.6</text>
<path d="M646.4 147.9h4.2M667 147.9h-4.2" stroke="#fff" stroke-opacity="0.75" stroke-width="1"/>
<text transform="translate(670.2 151.15) scale(1.0 1.02)" class="cb">0.4</text>
<path d="M646.4 173.8h4.2M667 173.8h-4.2" stroke="#fff" stroke-opacity="0.75" stroke-width="1"/>
<text transform="translate(670.2 177.05) scale(1.0 1.02)" class="cb">0.2</text>
<path d="M31.1 332.6V557.6" stroke="#1c1c1c" stroke-width="1.6"/>
<path d="M30.3 556.8H253.8" stroke="#1c1c1c" stroke-width="1.6"/>
<path d="M67.05 557.3V559.5" stroke="#1c1c1c" stroke-width="1.3"/>
<text transform="translate(67.05 572) scale(1.0 1.07)" text-anchor="middle" class="tk">-2</text>
<path d="M107.2 557.3V559.5" stroke="#1c1c1c" stroke-width="1.3"/>
<text transform="translate(107.2 572) scale(1.0 1.07)" text-anchor="middle" class="tk">-1</text>
<path d="M147.35 557.3V559.5" stroke="#1c1c1c" stroke-width="1.3"/>
<text transform="translate(147.35 572) scale(1.0 1.07)" text-anchor="middle" class="tk">0</text>
<path d="M187.5 557.3V559.5" stroke="#1c1c1c" stroke-width="1.3"/>
<text transform="translate(187.5 572) scale(1.0 1.07)" text-anchor="middle" class="tk">1</text>
<path d="M227.65 557.3V559.5" stroke="#1c1c1c" stroke-width="1.3"/>
<text transform="translate(227.65 572) scale(1.0 1.07)" text-anchor="middle" class="tk">2</text>
<path d="M28.4 373.9H30.6" stroke="#1c1c1c" stroke-width="1.3"/>
<text transform="translate(25.3 378.65) scale(1.0 1.07)" text-anchor="end" class="tk">2</text>
<path d="M28.4 441H30.6" stroke="#1c1c1c" stroke-width="1.3"/>
<text transform="translate(25.3 445.75) scale(1.0 1.07)" text-anchor="end" class="tk">0</text>
<path d="M28.4 508.2H30.6" stroke="#1c1c1c" stroke-width="1.3"/>
<text transform="translate(25.3 512.95) scale(1.0 1.07)" text-anchor="end" class="tk">-2</text>
<text transform="translate(147.4 589.6) scale(1.0 1.07)" text-anchor="middle" class="at">UMAP1</text>
<text transform="translate(9.6 440.85) rotate(-90) scale(1.02 1.045)" text-anchor="middle" class="at">UMAP2</text>
<ellipse cx="85.1" cy="367" rx="2.38" ry="2.5" fill="#a30000"/>
<ellipse cx="76.7" cy="372.2" rx="2.38" ry="2.5" fill="#a30000"/>
<ellipse cx="73.2" cy="376.4" rx="2.38" ry="2.5" fill="#a30000"/>
<ellipse cx="77.8" cy="376.7" rx="2.38" ry="2.5" fill="#a30000"/>
<ellipse cx="75.7" cy="378.8" rx="2.38" ry="2.5" fill="#a30000"/>
<ellipse cx="82.9" cy="378" rx="2.38" ry="2.5" fill="#ffa500"/>
<ellipse cx="66.8" cy="384.6" rx="2.38" ry="2.5" fill="#a30000"/>
<ellipse cx="69.9" cy="385.3" rx="2.38" ry="2.5" fill="#a30000"/>
<ellipse cx="99" cy="364.5" rx="2.38" ry="2.5" fill="#a30000"/>
<ellipse cx="110" cy="376.7" rx="2.38" ry="2.5" fill="#ffa500"/>
<ellipse cx="117.7" cy="380.3" rx="2.38" ry="2.5" fill="#66a61e"/>
<ellipse cx="127.1" cy="360.3" rx="2.38" ry="2.5" fill="#bebebe"/>
<ellipse cx="142.7" cy="356.9" rx="2.38" ry="2.5" fill="#bebebe"/>
<ellipse cx="143.9" cy="369.9" rx="2.38" ry="2.5" fill="#bebebe"/>
<ellipse cx="151" cy="383.3" rx="2.38" ry="2.5" fill="#bebebe"/>
<ellipse cx="165.2" cy="343" rx="2.38" ry="2.5" fill="#bebebe"/>
<ellipse cx="172.9" cy="344.7" rx="2.38" ry="2.5" fill="#bebebe"/>
<ellipse cx="180.2" cy="342.5" rx="2.38" ry="2.5" fill="#bebebe"/>
<ellipse cx="182.1" cy="346.5" rx="2.38" ry="2.5" fill="#bebebe"/>
<ellipse cx="174.2" cy="349.8" rx="2.38" ry="2.5" fill="#bebebe"/>
<ellipse cx="159.1" cy="351.1" rx="2.38" ry="2.5" fill="#bebebe"/>
<ellipse cx="159.9" cy="355.2" rx="2.38" ry="2.5" fill="#bebebe"/>
<ellipse cx="168.8" cy="355.9" rx="2.38" ry="2.5" fill="#bebebe"/>
<ellipse cx="167.1" cy="357.4" rx="2.38" ry="2.5" fill="#bebebe"/>
<ellipse cx="190.9" cy="351.3" rx="2.38" ry="2.5" fill="#bebebe"/>
<ellipse cx="191.7" cy="356.7" rx="2.38" ry="2.5" fill="#bebebe"/>
<ellipse cx="193.9" cy="359.8" rx="2.38" ry="2.5" fill="#bebebe"/>
<ellipse cx="201" cy="355.8" rx="2.38" ry="2.5" fill="#bebebe"/>
<ellipse cx="208.2" cy="354.4" rx="2.38" ry="2.5" fill="#0b52a6"/>
<ellipse cx="211.8" cy="358.6" rx="2.38" ry="2.5" fill="#bebebe"/>
<ellipse cx="181.2" cy="367.1" rx="2.38" ry="2.5" fill="#0b52a6"/>
<ellipse cx="187.3" cy="371.5" rx="2.38" ry="2.5" fill="#bebebe"/>
<ellipse cx="188.8" cy="372.9" rx="2.38" ry="2.5" fill="#0b52a6"/>
<ellipse cx="153.8" cy="369.9" rx="2.38" ry="2.5" fill="#bebebe"/>
<ellipse cx="195.7" cy="378.8" rx="2.38" ry="2.5" fill="#0b52a6"/>
<ellipse cx="156.6" cy="383.7" rx="2.38" ry="2.5" fill="#0b52a6"/>
<ellipse cx="185.6" cy="383.2" rx="2.38" ry="2.5" fill="#bebebe"/>
<ellipse cx="182.2" cy="389.5" rx="2.38" ry="2.5" fill="#0b52a6"/>
<ellipse cx="172.6" cy="391.5" rx="2.38" ry="2.5" fill="#0b52a6"/>
<ellipse cx="202.9" cy="391.5" rx="2.38" ry="2.5" fill="#0b52a6"/>
<ellipse cx="214.4" cy="373.4" rx="2.38" ry="2.5" fill="#0b52a6"/>
<ellipse cx="214.2" cy="383.5" rx="2.38" ry="2.5" fill="#bebebe"/>
<ellipse cx="225" cy="382.5" rx="2.38" ry="2.5" fill="#0b52a6"/>
<ellipse cx="229.5" cy="383.5" rx="2.38" ry="2.5" fill="#0b52a6"/>
<ellipse cx="215.9" cy="390.4" rx="2.38" ry="2.5" fill="#0b52a6"/>
<ellipse cx="235.8" cy="391.3" rx="2.38" ry="2.5" fill="#0b52a6"/>
<ellipse cx="238.9" cy="393.9" rx="2.38" ry="2.5" fill="#0b52a6"/>
<ellipse cx="69.7" cy="396.1" rx="2.38" ry="2.5" fill="#a30000"/>
<ellipse cx="61.2" cy="403.9" rx="2.38" ry="2.5" fill="#a30000"/>
<ellipse cx="74.8" cy="420.1" rx="2.38" ry="2.5" fill="#a30000"/>
<ellipse cx="54.4" cy="423.7" rx="2.38" ry="2.5" fill="#ffa500"/>
<ellipse cx="57.2" cy="424.8" rx="2.38" ry="2.5" fill="#ffa500"/>
<ellipse cx="47.3" cy="430.8" rx="2.38" ry="2.5" fill="#ffa500"/>
<ellipse cx="47.8" cy="433.5" rx="2.38" ry="2.5" fill="#ffa500"/>
<ellipse cx="46.5" cy="437.8" rx="2.38" ry="2.5" fill="#ffa500"/>
<ellipse cx="40.9" cy="442.1" rx="2.38" ry="2.5" fill="#ffa500"/>
<ellipse cx="46.5" cy="448.5" rx="2.38" ry="2.5" fill="#ffa500"/>
<ellipse cx="91" cy="436" rx="2.38" ry="2.5" fill="#66a61e"/>
<ellipse cx="119.6" cy="402.5" rx="2.38" ry="2.5" fill="#66a61e"/>
<ellipse cx="136.1" cy="406.2" rx="2.38" ry="2.5" fill="#66a61e"/>
<ellipse cx="139.9" cy="403.8" rx="2.38" ry="2.5" fill="#66a61e"/>
<ellipse cx="123.7" cy="415.7" rx="2.38" ry="2.5" fill="#66a61e"/>
<ellipse cx="142.1" cy="415.4" rx="2.38" ry="2.5" fill="#66a61e"/>
<ellipse cx="115.5" cy="423" rx="2.38" ry="2.5" fill="#66a61e"/>
<ellipse cx="101.7" cy="431" rx="2.38" ry="2.5" fill="#66a61e"/>
<ellipse cx="100.2" cy="432.7" rx="2.38" ry="2.5" fill="#66a61e"/>
<ellipse cx="130.9" cy="429.8" rx="2.38" ry="2.5" fill="#66a61e"/>
<ellipse cx="108" cy="435.5" rx="2.38" ry="2.5" fill="#66a61e"/>
<ellipse cx="104" cy="441.8" rx="2.38" ry="2.5" fill="#66a61e"/>
<ellipse cx="100.9" cy="445.9" rx="2.38" ry="2.5" fill="#66a61e"/>
<ellipse cx="144.1" cy="437.6" rx="2.38" ry="2.5" fill="#66a61e"/>
<ellipse cx="131.9" cy="445.9" rx="2.38" ry="2.5" fill="#66a61e"/>
<ellipse cx="152" cy="449.3" rx="2.38" ry="2.5" fill="#66a61e"/>
<ellipse cx="165.5" cy="402.2" rx="2.38" ry="2.5" fill="#66a61e"/>
<ellipse cx="170" cy="408.5" rx="2.38" ry="2.5" fill="#0b52a6"/>
<ellipse cx="184.6" cy="403.7" rx="2.38" ry="2.5" fill="#0b52a6"/>
<ellipse cx="191.5" cy="405.5" rx="2.38" ry="2.5" fill="#0b52a6"/>
<ellipse cx="203.5" cy="405.9" rx="2.38" ry="2.5" fill="#0b52a6"/>
<ellipse cx="205.6" cy="411.5" rx="2.38" ry="2.5" fill="#0b52a6"/>
<ellipse cx="155.1" cy="420.2" rx="2.38" ry="2.5" fill="#0b52a6"/>
<ellipse cx="164.3" cy="423.5" rx="2.38" ry="2.5" fill="#0b52a6"/>
<ellipse cx="198.7" cy="425.8" rx="2.38" ry="2.5" fill="#0b52a6"/>
<ellipse cx="211.3" cy="419.7" rx="2.38" ry="2.5" fill="#0b52a6"/>
<ellipse cx="169.1" cy="442.8" rx="2.38" ry="2.5" fill="#0b52a6"/>
<ellipse cx="166.3" cy="444.1" rx="2.38" ry="2.5" fill="#0b52a6"/>
<ellipse cx="191.7" cy="450.8" rx="2.38" ry="2.5" fill="#0b52a6"/>
<ellipse cx="223.2" cy="400.3" rx="2.38" ry="2.5" fill="#0b52a6"/>
<ellipse cx="226.2" cy="398.9" rx="2.38" ry="2.5" fill="#0b52a6"/>
<ellipse cx="225" cy="401.2" rx="2.38" ry="2.5" fill="#0b52a6"/>
<ellipse cx="219.2" cy="405.8" rx="2.38" ry="2.5" fill="#0b52a6"/>
<ellipse cx="243.5" cy="404" rx="2.38" ry="2.5" fill="#0b52a6"/>
<ellipse cx="242.8" cy="412.5" rx="2.38" ry="2.5" fill="#0b52a6"/>
<ellipse cx="235.2" cy="417" rx="2.38" ry="2.5" fill="#0b52a6"/>
<ellipse cx="235.1" cy="424.1" rx="2.38" ry="2.5" fill="#0b52a6"/>
<ellipse cx="224.5" cy="428.3" rx="2.38" ry="2.5" fill="#0b52a6"/>
<ellipse cx="220.2" cy="431.9" rx="2.38" ry="2.5" fill="#0b52a6"/>
<ellipse cx="234.6" cy="429.6" rx="2.38" ry="2.5" fill="#0b52a6"/>
<ellipse cx="231.8" cy="437.1" rx="2.38" ry="2.5" fill="#0b52a6"/>
<ellipse cx="223.1" cy="450" rx="2.38" ry="2.5" fill="#0b52a6"/>
<ellipse cx="229.6" cy="449.5" rx="2.38" ry="2.5" fill="#ffa500"/>
<ellipse cx="44.9" cy="453.5" rx="2.38" ry="2.5" fill="#ffa500"/>
<ellipse cx="46.8" cy="471.3" rx="2.38" ry="2.5" fill="#a8d87a"/>
<ellipse cx="53" cy="477.4" rx="2.38" ry="2.5" fill="#a8d87a"/>
<ellipse cx="47.3" cy="480.5" rx="2.38" ry="2.5" fill="#a8d87a"/>
<ellipse cx="48.1" cy="482.2" rx="2.38" ry="2.5" fill="#a8d87a"/>
<ellipse cx="60" cy="489.8" rx="2.38" ry="2.5" fill="#a8d87a"/>
<ellipse cx="68.4" cy="488.8" rx="2.38" ry="2.5" fill="#a8d87a"/>
<ellipse cx="80.6" cy="489.9" rx="2.38" ry="2.5" fill="#a8d87a"/>
<ellipse cx="81.4" cy="488.4" rx="2.38" ry="2.5" fill="#a8d87a"/>
<ellipse cx="70" cy="499.2" rx="2.38" ry="2.5" fill="#a8d87a"/>
<ellipse cx="87.4" cy="473.4" rx="2.38" ry="2.5" fill="#66a61e"/>
<ellipse cx="89.3" cy="504.6" rx="2.38" ry="2.5" fill="#a8d87a"/>
<ellipse cx="111.3" cy="455.4" rx="2.38" ry="2.5" fill="#66a61e"/>
<ellipse cx="132" cy="456.1" rx="2.38" ry="2.5" fill="#66a61e"/>
<ellipse cx="116.6" cy="462.2" rx="2.38" ry="2.5" fill="#66a61e"/>
<ellipse cx="124.1" cy="462.9" rx="2.38" ry="2.5" fill="#66a61e"/>
<ellipse cx="104.4" cy="465.2" rx="2.38" ry="2.5" fill="#66a61e"/>
<ellipse cx="120.2" cy="467.3" rx="2.38" ry="2.5" fill="#66a61e"/>
<ellipse cx="112.6" cy="479.3" rx="2.38" ry="2.5" fill="#66a61e"/>
<ellipse cx="110.8" cy="482.3" rx="2.38" ry="2.5" fill="#a8d87a"/>
<ellipse cx="114.9" cy="482.8" rx="2.38" ry="2.5" fill="#66a61e"/>
<ellipse cx="136.3" cy="485.3" rx="2.38" ry="2.5" fill="#64aadc"/>
<ellipse cx="149" cy="496.2" rx="2.38" ry="2.5" fill="#64aadc"/>
<ellipse cx="108" cy="500.3" rx="2.38" ry="2.5" fill="#64aadc"/>
<ellipse cx="115.7" cy="502.8" rx="2.38" ry="2.5" fill="#a8d87a"/>
<ellipse cx="138" cy="504.7" rx="2.38" ry="2.5" fill="#64aadc"/>
<ellipse cx="117.4" cy="508.6" rx="2.38" ry="2.5" fill="#a8d87a"/>
<ellipse cx="207.1" cy="470.6" rx="2.38" ry="2.5" fill="#64aadc"/>
<ellipse cx="180.5" cy="475.8" rx="2.38" ry="2.5" fill="#ffa500"/>
<ellipse cx="173.2" cy="477.4" rx="2.38" ry="2.5" fill="#64aadc"/>
<ellipse cx="185.9" cy="483.2" rx="2.38" ry="2.5" fill="#64aadc"/>
<ellipse cx="205.9" cy="477.9" rx="2.38" ry="2.5" fill="#64aadc"/>
<ellipse cx="207.1" cy="481.8" rx="2.38" ry="2.5" fill="#64aadc"/>
<ellipse cx="199.8" cy="483.8" rx="2.38" ry="2.5" fill="#64aadc"/>
<ellipse cx="202.2" cy="483" rx="2.38" ry="2.5" fill="#64aadc"/>
<ellipse cx="153.4" cy="487.1" rx="2.38" ry="2.5" fill="#66a61e"/>
<ellipse cx="171.3" cy="494.4" rx="2.38" ry="2.5" fill="#64aadc"/>
<ellipse cx="167.6" cy="498.3" rx="2.38" ry="2.5" fill="#64aadc"/>
<ellipse cx="179.3" cy="498" rx="2.38" ry="2.5" fill="#64aadc"/>
<ellipse cx="187.6" cy="497.1" rx="2.38" ry="2.5" fill="#64aadc"/>
<ellipse cx="165.5" cy="510" rx="2.38" ry="2.5" fill="#64aadc"/>
<ellipse cx="176.9" cy="512.2" rx="2.38" ry="2.5" fill="#64aadc"/>
<ellipse cx="219.3" cy="455.6" rx="2.38" ry="2.5" fill="#64aadc"/>
<ellipse cx="229.6" cy="459.4" rx="2.38" ry="2.5" fill="#64aadc"/>
<ellipse cx="229.7" cy="463.3" rx="2.38" ry="2.5" fill="#64aadc"/>
<ellipse cx="233.1" cy="463.8" rx="2.38" ry="2.5" fill="#64aadc"/>
<ellipse cx="214.9" cy="464.7" rx="2.38" ry="2.5" fill="#0b52a6"/>
<ellipse cx="221.5" cy="471.8" rx="2.38" ry="2.5" fill="#64aadc"/>
<ellipse cx="225.2" cy="473.2" rx="2.38" ry="2.5" fill="#64aadc"/>
<ellipse cx="231.8" cy="474.4" rx="2.38" ry="2.5" fill="#64aadc"/>
<ellipse cx="74" cy="513.2" rx="2.38" ry="2.5" fill="#a8d87a"/>
<ellipse cx="80.6" cy="521.6" rx="2.38" ry="2.5" fill="#a8d87a"/>
<ellipse cx="80.3" cy="531" rx="2.38" ry="2.5" fill="#a8d87a"/>
<ellipse cx="94.1" cy="514.3" rx="2.38" ry="2.5" fill="#a8d87a"/>
<ellipse cx="120" cy="514.1" rx="2.38" ry="2.5" fill="#64aadc"/>
<ellipse cx="126.8" cy="521.1" rx="2.38" ry="2.5" fill="#a8d87a"/>
<ellipse cx="134.5" cy="519.8" rx="2.38" ry="2.5" fill="#64aadc"/>
<ellipse cx="95.3" cy="526.3" rx="2.38" ry="2.5" fill="#a8d87a"/>
<ellipse cx="124.6" cy="525.4" rx="2.38" ry="2.5" fill="#64aadc"/>
<ellipse cx="138" cy="528.3" rx="2.38" ry="2.5" fill="#64aadc"/>
<ellipse cx="111" cy="532.9" rx="2.38" ry="2.5" fill="#64aadc"/>
<ellipse cx="128.3" cy="532.8" rx="2.38" ry="2.5" fill="#64aadc"/>
<ellipse cx="142.2" cy="537.4" rx="2.38" ry="2.5" fill="#64aadc"/>
<ellipse cx="94.1" cy="540.7" rx="2.38" ry="2.5" fill="#a8d87a"/>
<ellipse cx="95.6" cy="539.2" rx="2.38" ry="2.5" fill="#a8d87a"/>
<ellipse cx="114.2" cy="539.7" rx="2.38" ry="2.5" fill="#a8d87a"/>
<ellipse cx="116.7" cy="539.4" rx="2.38" ry="2.5" fill="#a8d87a"/>
<ellipse cx="120.7" cy="539.5" rx="2.38" ry="2.5" fill="#64aadc"/>
<ellipse cx="123" cy="542.4" rx="2.38" ry="2.5" fill="#a8d87a"/>
<ellipse cx="133" cy="541.4" rx="2.38" ry="2.5" fill="#64aadc"/>
<ellipse cx="146.9" cy="542" rx="2.38" ry="2.5" fill="#64aadc"/>
<ellipse cx="109" cy="543.2" rx="2.38" ry="2.5" fill="#a8d87a"/>
<ellipse cx="96.8" cy="546.8" rx="2.38" ry="2.5" fill="#a8d87a"/>
<ellipse cx="164.2" cy="516.8" rx="2.38" ry="2.5" fill="#64aadc"/>
<ellipse cx="157.9" cy="526.3" rx="2.38" ry="2.5" fill="#64aadc"/>
<text transform="translate(144.95 320) scale(1.01 1.0)" text-anchor="middle" class="tt">Methylation pattern</text>
<circle cx="275.5" cy="384.8" r="3.4" fill="#00008b"/>
<text transform="translate(293.9 389.25) scale(1.0 1.07)" class="lg">MP1</text>
<circle cx="275.5" cy="406.8" r="3.4" fill="#add8e6"/>
<text transform="translate(293.9 411.25) scale(1.0 1.07)" class="lg">MP2</text>
<circle cx="275.5" cy="428.8" r="3.4" fill="#a9a9a9"/>
<text transform="translate(293.9 433.25) scale(1.0 1.07)" class="lg">MP3</text>
<circle cx="275.5" cy="450.8" r="3.4" fill="#228b22"/>
<text transform="translate(293.9 455.25) scale(1.0 1.07)" class="lg">MP4</text>
<circle cx="275.5" cy="472.8" r="3.4" fill="#98e098"/>
<text transform="translate(293.9 477.25) scale(1.0 1.07)" class="lg">MP5</text>
<circle cx="275.5" cy="494.8" r="3.4" fill="#8b0000"/>
<text transform="translate(293.9 499.25) scale(1.0 1.07)" class="lg">MP6</text>
<circle cx="275.5" cy="516.8" r="3.4" fill="#ffa500"/>
<text transform="translate(293.9 521.25) scale(1.0 1.07)" class="lg">MP7</text>
<path d="M408.7 332V557" stroke="#1c1c1c" stroke-width="1.6"/>
<path d="M407.9 556.2H631.4" stroke="#1c1c1c" stroke-width="1.6"/>
<path d="M444.65 556.7V558.9" stroke="#1c1c1c" stroke-width="1.3"/>
<text transform="translate(444.65 571.4) scale(1.0 1.07)" text-anchor="middle" class="tk">-2</text>
<path d="M484.8 556.7V558.9" stroke="#1c1c1c" stroke-width="1.3"/>
<text transform="translate(484.8 571.4) scale(1.0 1.07)" text-anchor="middle" class="tk">-1</text>
<path d="M524.95 556.7V558.9" stroke="#1c1c1c" stroke-width="1.3"/>
<text transform="translate(524.95 571.4) scale(1.0 1.07)" text-anchor="middle" class="tk">0</text>
<path d="M565.1 556.7V558.9" stroke="#1c1c1c" stroke-width="1.3"/>
<text transform="translate(565.1 571.4) scale(1.0 1.07)" text-anchor="middle" class="tk">1</text>
<path d="M605.25 556.7V558.9" stroke="#1c1c1c" stroke-width="1.3"/>
<text transform="translate(605.25 571.4) scale(1.0 1.07)" text-anchor="middle" class="tk">2</text>
<path d="M406 373.3H408.2" stroke="#1c1c1c" stroke-width="1.3"/>
<text transform="translate(402.9 378.05) scale(1.0 1.07)" text-anchor="end" class="tk">2</text>
<path d="M406 440.4H408.2" stroke="#1c1c1c" stroke-width="1.3"/>
<text transform="translate(402.9 445.15) scale(1.0 1.07)" text-anchor="end" class="tk">0</text>
<path d="M406 507.6H408.2" stroke="#1c1c1c" stroke-width="1.3"/>
<text transform="translate(402.9 512.35) scale(1.0 1.07)" text-anchor="end" class="tk">-2</text>
<text transform="translate(525 589) scale(1.0 1.07)" text-anchor="middle" class="at">UMAP1</text>
<text transform="translate(387.2 440.25) rotate(-90) scale(1.02 1.045)" text-anchor="middle" class="at">UMAP2</text>
<ellipse cx="461.7" cy="366.3" rx="2.38" ry="2.5" fill="#b0311d"/>
<ellipse cx="453.45" cy="371.41" rx="2.38" ry="2.5" fill="#b0311d"/>
<ellipse cx="450.01" cy="375.54" rx="2.38" ry="2.5" fill="#b0311d"/>
<ellipse cx="454.53" cy="375.84" rx="2.38" ry="2.5" fill="#cb6750"/>
<ellipse cx="452.46" cy="377.9" rx="2.38" ry="2.5" fill="#c55b43"/>
<ellipse cx="459.54" cy="377.11" rx="2.38" ry="2.5" fill="#a10301"/>
<ellipse cx="443.72" cy="383.6" rx="2.38" ry="2.5" fill="#cb6750"/>
<ellipse cx="446.77" cy="384.29" rx="2.38" ry="2.5" fill="#a10301"/>
<ellipse cx="475.36" cy="363.84" rx="2.38" ry="2.5" fill="#dc8c78"/>
<ellipse cx="486.17" cy="375.84" rx="2.38" ry="2.5" fill="#a82010"/>
<ellipse cx="493.73" cy="379.38" rx="2.38" ry="2.5" fill="#cb6750"/>
<ellipse cx="502.97" cy="359.71" rx="2.38" ry="2.5" fill="#dc8c78"/>
<ellipse cx="518.3" cy="356.37" rx="2.38" ry="2.5" fill="#cb6750"/>
<ellipse cx="519.48" cy="369.15" rx="2.38" ry="2.5" fill="#e6a594"/>
<ellipse cx="526.45" cy="382.33" rx="2.38" ry="2.5" fill="#e6a594"/>
<ellipse cx="540.41" cy="342.7" rx="2.38" ry="2.5" fill="#be4e36"/>
<ellipse cx="547.97" cy="344.37" rx="2.38" ry="2.5" fill="#b0311d"/>
<ellipse cx="555.15" cy="342.21" rx="2.38" ry="2.5" fill="#be4e36"/>
<ellipse cx="557.01" cy="346.14" rx="2.38" ry="2.5" fill="#dc8c78"/>
<ellipse cx="549.25" cy="349.39" rx="2.38" ry="2.5" fill="#e6a594"/>
<ellipse cx="534.41" cy="350.66" rx="2.38" ry="2.5" fill="#e6a594"/>
<ellipse cx="535.2" cy="354.7" rx="2.38" ry="2.5" fill="#e6a594"/>
<ellipse cx="543.94" cy="355.38" rx="2.38" ry="2.5" fill="#e19986"/>
<ellipse cx="542.27" cy="356.86" rx="2.38" ry="2.5" fill="#cb6750"/>
<ellipse cx="565.66" cy="350.86" rx="2.38" ry="2.5" fill="#e6a594"/>
<ellipse cx="566.45" cy="356.17" rx="2.38" ry="2.5" fill="#e6a594"/>
<ellipse cx="568.61" cy="359.22" rx="2.38" ry="2.5" fill="#c55b43"/>
<ellipse cx="575.58" cy="355.29" rx="2.38" ry="2.5" fill="#cb6750"/>
<ellipse cx="582.66" cy="353.91" rx="2.38" ry="2.5" fill="#a82010"/>
<ellipse cx="586.2" cy="358.04" rx="2.38" ry="2.5" fill="#c55b43"/>
<ellipse cx="556.13" cy="366.4" rx="2.38" ry="2.5" fill="#cb6750"/>
<ellipse cx="562.12" cy="370.72" rx="2.38" ry="2.5" fill="#e6a594"/>
<ellipse cx="563.6" cy="372.1" rx="2.38" ry="2.5" fill="#e19986"/>
<ellipse cx="529.21" cy="369.15" rx="2.38" ry="2.5" fill="#e6a594"/>
<ellipse cx="570.38" cy="377.9" rx="2.38" ry="2.5" fill="#d7806b"/>
<ellipse cx="531.96" cy="382.72" rx="2.38" ry="2.5" fill="#e6a594"/>
<ellipse cx="560.45" cy="382.23" rx="2.38" ry="2.5" fill="#e6a594"/>
<ellipse cx="557.11" cy="388.42" rx="2.38" ry="2.5" fill="#e19986"/>
<ellipse cx="547.68" cy="390.39" rx="2.38" ry="2.5" fill="#e6a594"/>
<ellipse cx="577.45" cy="390.39" rx="2.38" ry="2.5" fill="#e6a594"/>
<ellipse cx="588.75" cy="372.59" rx="2.38" ry="2.5" fill="#b7402a"/>
<ellipse cx="588.55" cy="382.52" rx="2.38" ry="2.5" fill="#eab1a3"/>
<ellipse cx="599.17" cy="381.54" rx="2.38" ry="2.5" fill="#be4e36"/>
<ellipse cx="603.59" cy="382.52" rx="2.38" ry="2.5" fill="#b7402a"/>
<ellipse cx="590.23" cy="389.31" rx="2.38" ry="2.5" fill="#a82010"/>
<ellipse cx="609.78" cy="390.19" rx="2.38" ry="2.5" fill="#be4e36"/>
<ellipse cx="612.83" cy="392.75" rx="2.38" ry="2.5" fill="#be4e36"/>
<ellipse cx="446.57" cy="394.91" rx="2.38" ry="2.5" fill="#d7806b"/>
<ellipse cx="438.22" cy="402.58" rx="2.38" ry="2.5" fill="#b7402a"/>
<ellipse cx="451.58" cy="418.51" rx="2.38" ry="2.5" fill="#e19986"/>
<ellipse cx="431.54" cy="422.05" rx="2.38" ry="2.5" fill="#d1745d"/>
<ellipse cx="434.29" cy="423.13" rx="2.38" ry="2.5" fill="#d1745d"/>
<ellipse cx="424.56" cy="429.03" rx="2.38" ry="2.5" fill="#d1745d"/>
<ellipse cx="425.05" cy="431.69" rx="2.38" ry="2.5" fill="#cb6750"/>
<ellipse cx="423.77" cy="435.92" rx="2.38" ry="2.5" fill="#be4e36"/>
<ellipse cx="418.27" cy="440.14" rx="2.38" ry="2.5" fill="#b0311d"/>
<ellipse cx="423.77" cy="446.44" rx="2.38" ry="2.5" fill="#b0311d"/>
<ellipse cx="467.5" cy="434.15" rx="2.38" ry="2.5" fill="#e19986"/>
<ellipse cx="495.6" cy="401.21" rx="2.38" ry="2.5" fill="#be4e36"/>
<ellipse cx="511.81" cy="404.84" rx="2.38" ry="2.5" fill="#e19986"/>
<ellipse cx="515.55" cy="402.48" rx="2.38" ry="2.5" fill="#e19986"/>
<ellipse cx="499.63" cy="414.19" rx="2.38" ry="2.5" fill="#cb6750"/>
<ellipse cx="517.71" cy="413.89" rx="2.38" ry="2.5" fill="#757575"/>
<ellipse cx="491.57" cy="421.36" rx="2.38" ry="2.5" fill="#ecb6a9"/>
<ellipse cx="478.01" cy="429.23" rx="2.38" ry="2.5" fill="#dc8c78"/>
<ellipse cx="476.54" cy="430.9" rx="2.38" ry="2.5" fill="#dc8c78"/>
<ellipse cx="506.7" cy="428.05" rx="2.38" ry="2.5" fill="#d7806b"/>
<ellipse cx="484.2" cy="433.65" rx="2.38" ry="2.5" fill="#d1745d"/>
<ellipse cx="480.27" cy="439.85" rx="2.38" ry="2.5" fill="#dc8c78"/>
<ellipse cx="477.23" cy="443.88" rx="2.38" ry="2.5" fill="#e6a594"/>
<ellipse cx="519.67" cy="435.72" rx="2.38" ry="2.5" fill="#e6a594"/>
<ellipse cx="507.69" cy="443.88" rx="2.38" ry="2.5" fill="#e6a594"/>
<ellipse cx="527.44" cy="447.22" rx="2.38" ry="2.5" fill="#e19986"/>
<ellipse cx="540.7" cy="400.91" rx="2.38" ry="2.5" fill="#d1745d"/>
<ellipse cx="545.12" cy="407.11" rx="2.38" ry="2.5" fill="#e6a594"/>
<ellipse cx="559.47" cy="402.39" rx="2.38" ry="2.5" fill="#e6a594"/>
<ellipse cx="566.25" cy="404.16" rx="2.38" ry="2.5" fill="#b7402a"/>
<ellipse cx="578.04" cy="404.55" rx="2.38" ry="2.5" fill="#d7806b"/>
<ellipse cx="580.1" cy="410.06" rx="2.38" ry="2.5" fill="#cb6750"/>
<ellipse cx="530.48" cy="418.61" rx="2.38" ry="2.5" fill="#d1745d"/>
<ellipse cx="539.52" cy="421.86" rx="2.38" ry="2.5" fill="#e6a594"/>
<ellipse cx="573.32" cy="424.12" rx="2.38" ry="2.5" fill="#be4e36"/>
<ellipse cx="585.71" cy="418.12" rx="2.38" ry="2.5" fill="#cb6750"/>
<ellipse cx="544.24" cy="440.83" rx="2.38" ry="2.5" fill="#d7806b"/>
<ellipse cx="541.49" cy="442.11" rx="2.38" ry="2.5" fill="#dc8c78"/>
<ellipse cx="566.45" cy="448.7" rx="2.38" ry="2.5" fill="#dc8c78"/>
<ellipse cx="597.4" cy="399.04" rx="2.38" ry="2.5" fill="#cb6750"/>
<ellipse cx="600.35" cy="397.67" rx="2.38" ry="2.5" fill="#d1745d"/>
<ellipse cx="599.17" cy="399.93" rx="2.38" ry="2.5" fill="#cb6750"/>
<ellipse cx="593.47" cy="404.45" rx="2.38" ry="2.5" fill="#b7402a"/>
<ellipse cx="617.35" cy="402.68" rx="2.38" ry="2.5" fill="#be4e36"/>
<ellipse cx="616.66" cy="411.04" rx="2.38" ry="2.5" fill="#be4e36"/>
<ellipse cx="609.19" cy="415.46" rx="2.38" ry="2.5" fill="#a82010"/>
<ellipse cx="609.09" cy="422.45" rx="2.38" ry="2.5" fill="#b0311d"/>
<ellipse cx="598.68" cy="426.57" rx="2.38" ry="2.5" fill="#d1745d"/>
<ellipse cx="594.45" cy="430.11" rx="2.38" ry="2.5" fill="#c55b43"/>
<ellipse cx="608.6" cy="427.85" rx="2.38" ry="2.5" fill="#a41207"/>
<ellipse cx="605.85" cy="435.23" rx="2.38" ry="2.5" fill="#cb6750"/>
<ellipse cx="597.3" cy="447.91" rx="2.38" ry="2.5" fill="#be4e36"/>
<ellipse cx="603.69" cy="447.42" rx="2.38" ry="2.5" fill="#b0311d"/>
<ellipse cx="422.2" cy="451.35" rx="2.38" ry="2.5" fill="#be4e36"/>
<ellipse cx="424.07" cy="468.86" rx="2.38" ry="2.5" fill="#b0311d"/>
<ellipse cx="430.16" cy="474.85" rx="2.38" ry="2.5" fill="#c55b43"/>
<ellipse cx="424.56" cy="477.9" rx="2.38" ry="2.5" fill="#b0311d"/>
<ellipse cx="425.35" cy="479.57" rx="2.38" ry="2.5" fill="#b7402a"/>
<ellipse cx="437.04" cy="487.05" rx="2.38" ry="2.5" fill="#d1745d"/>
<ellipse cx="445.29" cy="486.06" rx="2.38" ry="2.5" fill="#cb6750"/>
<ellipse cx="457.28" cy="487.15" rx="2.38" ry="2.5" fill="#cb6750"/>
<ellipse cx="458.07" cy="485.67" rx="2.38" ry="2.5" fill="#b7402a"/>
<ellipse cx="446.86" cy="496.29" rx="2.38" ry="2.5" fill="#d1745d"/>
<ellipse cx="463.96" cy="470.92" rx="2.38" ry="2.5" fill="#dc8c78"/>
<ellipse cx="465.83" cy="501.6" rx="2.38" ry="2.5" fill="#d7806b"/>
<ellipse cx="487.45" cy="453.22" rx="2.38" ry="2.5" fill="#e6a594"/>
<ellipse cx="507.79" cy="453.91" rx="2.38" ry="2.5" fill="#dc8c78"/>
<ellipse cx="492.65" cy="459.91" rx="2.38" ry="2.5" fill="#dc8c78"/>
<ellipse cx="500.02" cy="460.6" rx="2.38" ry="2.5" fill="#dc8c78"/>
<ellipse cx="480.67" cy="462.86" rx="2.38" ry="2.5" fill="#dc8c78"/>
<ellipse cx="496.19" cy="464.92" rx="2.38" ry="2.5" fill="#d1745d"/>
<ellipse cx="488.72" cy="476.72" rx="2.38" ry="2.5" fill="#d7806b"/>
<ellipse cx="486.95" cy="479.67" rx="2.38" ry="2.5" fill="#d1745d"/>
<ellipse cx="490.98" cy="480.16" rx="2.38" ry="2.5" fill="#d7806b"/>
<ellipse cx="512.01" cy="482.62" rx="2.38" ry="2.5" fill="#dc8c78"/>
<ellipse cx="524.49" cy="493.34" rx="2.38" ry="2.5" fill="#d1745d"/>
<ellipse cx="484.2" cy="497.37" rx="2.38" ry="2.5" fill="#d1745d"/>
<ellipse cx="491.77" cy="499.83" rx="2.38" ry="2.5" fill="#e19986"/>
<ellipse cx="513.68" cy="501.7" rx="2.38" ry="2.5" fill="#a41207"/>
<ellipse cx="493.44" cy="505.53" rx="2.38" ry="2.5" fill="#dc8c78"/>
<ellipse cx="581.58" cy="468.17" rx="2.38" ry="2.5" fill="#d1745d"/>
<ellipse cx="555.44" cy="473.28" rx="2.38" ry="2.5" fill="#a10301"/>
<ellipse cx="548.27" cy="474.85" rx="2.38" ry="2.5" fill="#dc8c78"/>
<ellipse cx="560.75" cy="480.56" rx="2.38" ry="2.5" fill="#a10301"/>
<ellipse cx="580.4" cy="475.35" rx="2.38" ry="2.5" fill="#b0311d"/>
<ellipse cx="581.58" cy="479.18" rx="2.38" ry="2.5" fill="#d1745d"/>
<ellipse cx="574.41" cy="481.15" rx="2.38" ry="2.5" fill="#d1745d"/>
<ellipse cx="576.76" cy="480.36" rx="2.38" ry="2.5" fill="#d1745d"/>
<ellipse cx="528.81" cy="484.39" rx="2.38" ry="2.5" fill="#d7806b"/>
<ellipse cx="546.4" cy="491.57" rx="2.38" ry="2.5" fill="#d1745d"/>
<ellipse cx="542.77" cy="495.41" rx="2.38" ry="2.5" fill="#b0311d"/>
<ellipse cx="554.26" cy="495.11" rx="2.38" ry="2.5" fill="#d7806b"/>
<ellipse cx="562.42" cy="494.23" rx="2.38" ry="2.5" fill="#cb6750"/>
<ellipse cx="540.7" cy="506.91" rx="2.38" ry="2.5" fill="#b0311d"/>
<ellipse cx="551.9" cy="509.07" rx="2.38" ry="2.5" fill="#d7806b"/>
<ellipse cx="593.57" cy="453.42" rx="2.38" ry="2.5" fill="#cb6750"/>
<ellipse cx="603.69" cy="457.16" rx="2.38" ry="2.5" fill="#b0311d"/>
<ellipse cx="603.79" cy="460.99" rx="2.38" ry="2.5" fill="#cb6750"/>
<ellipse cx="607.13" cy="461.48" rx="2.38" ry="2.5" fill="#a10301"/>
<ellipse cx="589.24" cy="462.37" rx="2.38" ry="2.5" fill="#be4e36"/>
<ellipse cx="595.73" cy="469.35" rx="2.38" ry="2.5" fill="#cb6750"/>
<ellipse cx="599.36" cy="470.73" rx="2.38" ry="2.5" fill="#b7402a"/>
<ellipse cx="605.85" cy="471.91" rx="2.38" ry="2.5" fill="#a10301"/>
<ellipse cx="450.79" cy="510.06" rx="2.38" ry="2.5" fill="#cb6750"/>
<ellipse cx="457.28" cy="518.32" rx="2.38" ry="2.5" fill="#b0311d"/>
<ellipse cx="456.98" cy="527.56" rx="2.38" ry="2.5" fill="#d1745d"/>
<ellipse cx="470.54" cy="511.14" rx="2.38" ry="2.5" fill="#bb4831"/>
<ellipse cx="495.99" cy="510.94" rx="2.38" ry="2.5" fill="#c55b43"/>
<ellipse cx="502.68" cy="517.83" rx="2.38" ry="2.5" fill="#cb6750"/>
<ellipse cx="510.24" cy="516.55" rx="2.38" ry="2.5" fill="#cb6750"/>
<ellipse cx="471.72" cy="522.94" rx="2.38" ry="2.5" fill="#bb4831"/>
<ellipse cx="500.51" cy="522.05" rx="2.38" ry="2.5" fill="#c55b43"/>
<ellipse cx="513.68" cy="524.9" rx="2.38" ry="2.5" fill="#be4e36"/>
<ellipse cx="487.15" cy="529.43" rx="2.38" ry="2.5" fill="#c1533b"/>
<ellipse cx="504.15" cy="529.33" rx="2.38" ry="2.5" fill="#d1745d"/>
<ellipse cx="517.81" cy="533.85" rx="2.38" ry="2.5" fill="#cb6750"/>
<ellipse cx="470.54" cy="537.1" rx="2.38" ry="2.5" fill="#bb4831"/>
<ellipse cx="472.02" cy="535.62" rx="2.38" ry="2.5" fill="#c55b43"/>
<ellipse cx="490.29" cy="536.11" rx="2.38" ry="2.5" fill="#be4e36"/>
<ellipse cx="492.75" cy="535.82" rx="2.38" ry="2.5" fill="#be4e36"/>
<ellipse cx="496.68" cy="535.92" rx="2.38" ry="2.5" fill="#b0311d"/>
<ellipse cx="498.94" cy="538.77" rx="2.38" ry="2.5" fill="#dc8c78"/>
<ellipse cx="508.77" cy="537.79" rx="2.38" ry="2.5" fill="#c1533b"/>
<ellipse cx="522.43" cy="538.38" rx="2.38" ry="2.5" fill="#c55b43"/>
<ellipse cx="485.19" cy="539.56" rx="2.38" ry="2.5" fill="#a82010"/>
<ellipse cx="473.2" cy="543.1" rx="2.38" ry="2.5" fill="#be4e36"/>
<ellipse cx="539.42" cy="513.6" rx="2.38" ry="2.5" fill="#be4e36"/>
<ellipse cx="533.23" cy="522.94" rx="2.38" ry="2.5" fill="#b0311d"/>
<text transform="translate(519.2 320.2) scale(1.0 1.0)" text-anchor="middle" class="tt">Tumor cell content</text>
<defs><linearGradient id="g2" x1="0" y1="0" x2="0" y2="1"><stop offset="0.000" stop-color="#a00000"/><stop offset="0.050" stop-color="#a5180a"/><stop offset="0.100" stop-color="#ab2614"/><stop offset="0.150" stop-color="#b0321d"/><stop offset="0.200" stop-color="#b53c26"/><stop offset="0.250" stop-color="#ba462f"/><stop offset="0.300" stop-color="#bf5038"/><stop offset="0.350" stop-color="#c45941"/><stop offset="0.400" stop-color="#c8624a"/><stop offset="0.450" stop-color="#cd6b54"/><stop offset="0.500" stop-color="#d1735d"/><stop offset="0.550" stop-color="#d57c66"/><stop offset="0.600" stop-color="#d98570"/><stop offset="0.650" stop-color="#dd8d79"/><stop offset="0.700" stop-color="#e09683"/><stop offset="0.750" stop-color="#e49f8d"/><stop offset="0.800" stop-color="#e7a797"/><stop offset="0.850" stop-color="#eab0a1"/><stop offset="0.900" stop-color="#edb9ab"/><stop offset="0.950" stop-color="#efc1b6"/><stop offset="1.000" stop-color="#f2cac0"/></linearGradient></defs>
<rect x="646.5" y="394.3" width="19.5" height="95.5" fill="url(#g2)"/>
<path d="M646.5 408.4h4.2M666 408.4h-4.2" stroke="#fff" stroke-opacity="0.75" stroke-width="1"/>
<text transform="translate(669.2 411.65) scale(1.0 1.02)" class="cb">0.8</text>
<path d="M646.5 435.5h4.2M666 435.5h-4.2" stroke="#fff" stroke-opacity="0.75" stroke-width="1"/>
<text transform="translate(669.2 438.75) scale(1.0 1.02)" class="cb">0.6</text>
<path d="M646.5 462.7h4.2M666 462.7h-4.2" stroke="#fff" stroke-opacity="0.75" stroke-width="1"/>
<text transform="translate(669.2 465.95) scale(1.0 1.02)" class="cb">0.4</text>
<path d="M646.5 489.8h4.2M666 489.8h-4.2" stroke="#fff" stroke-opacity="0.75" stroke-width="1"/>
<text transform="translate(669.2 493.05) scale(1.0 1.02)" class="cb">0.2</text>
</svg></div></body></html>
